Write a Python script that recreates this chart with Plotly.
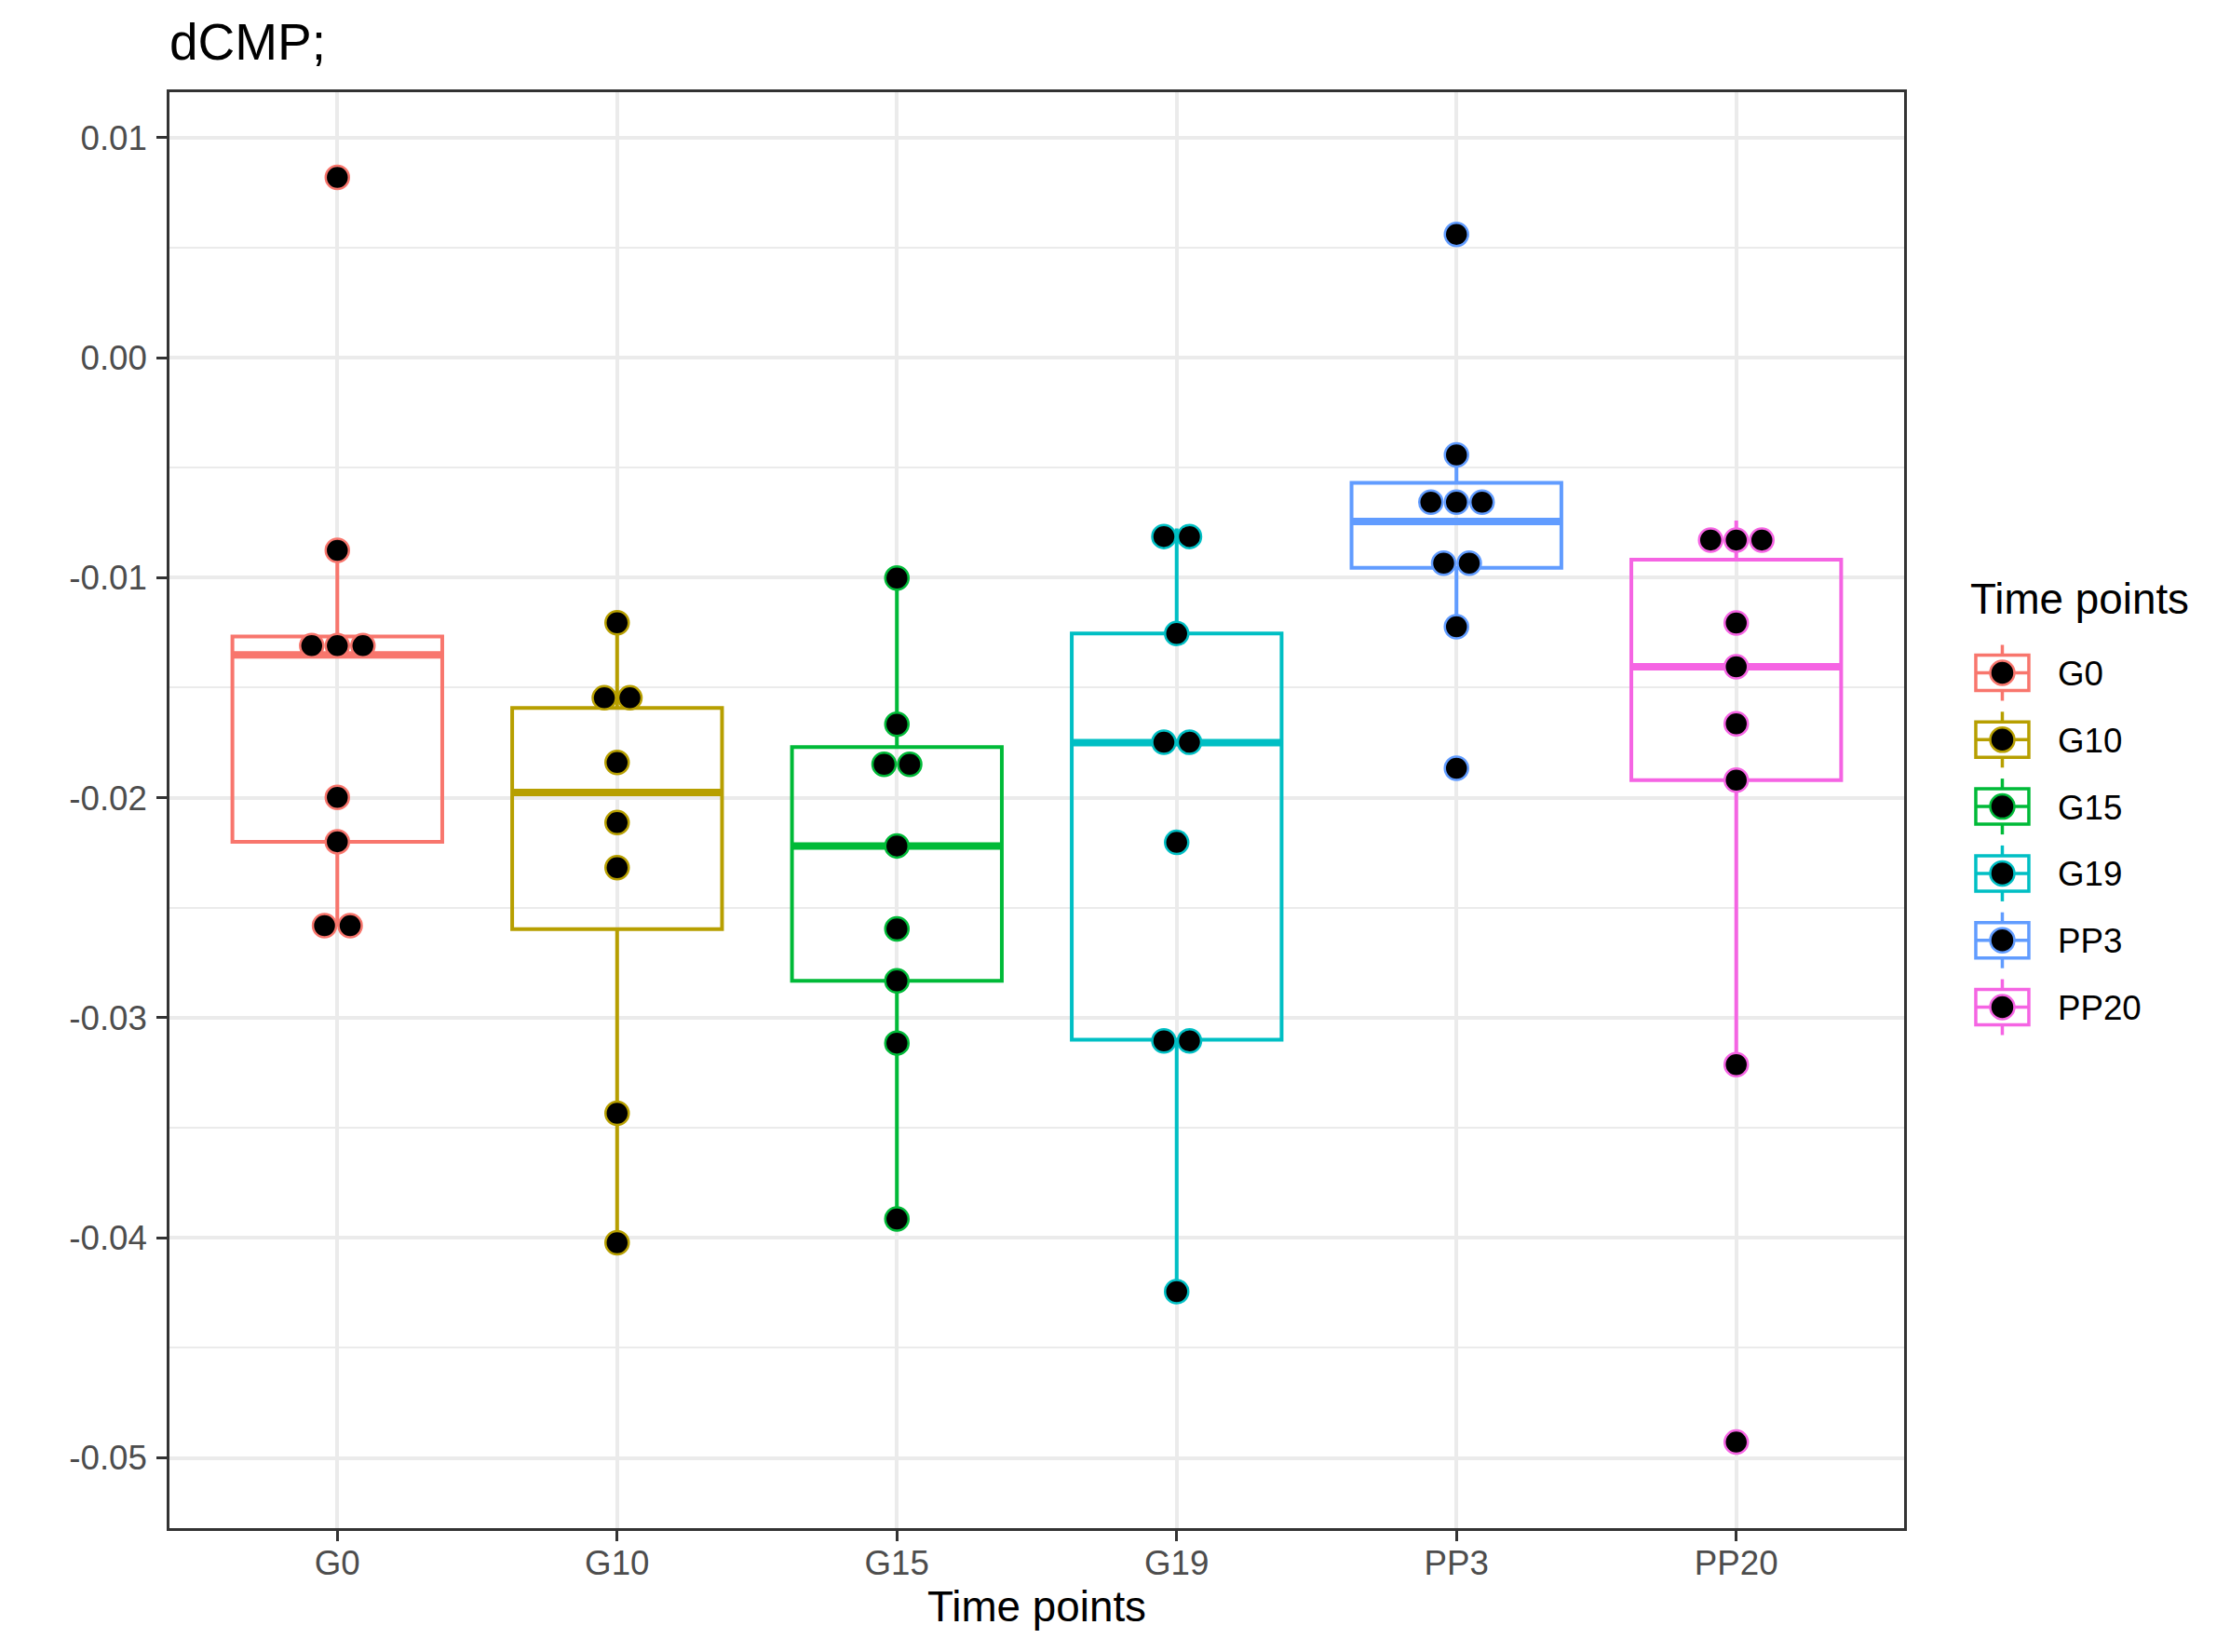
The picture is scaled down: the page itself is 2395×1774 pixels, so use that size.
import numpy as np
import plotly.graph_objects as go

# ---------------- data ----------------
categories = ["G0", "G10", "G15", "G19", "PP3", "PP20"]
colors = ["#F8766D", "#B79F00", "#00BA38", "#00BFC4", "#619CFF", "#F564E3"]

g0 = [0.00819, -0.00876, -0.01267, -0.01309, -0.01351, -0.01998, -0.02200, -0.02577, -0.02585]
g10 = [-0.01205, -0.01454, -0.01638, -0.01840, -0.02113, -0.02318, -0.03434, -0.04022]
g15 = [-0.01002, -0.01666, -0.01770, -0.01926, -0.02219, -0.02596, -0.02832, -0.03115, -0.03914]
g19 = [-0.00776, -0.00850, -0.01254, -0.01746, -0.01750, -0.02203, -0.03100, -0.03110, -0.04244]
pp3 = [0.00560, -0.00442, -0.00569, -0.00660, -0.00745, -0.00913, -0.00955, -0.01223, -0.01866]
pp20 = [-0.00740, -0.00830, -0.00918, -0.01206, -0.01405, -0.01664, -0.01920, -0.03213, -0.04928]
series = [g0, g10, g15, g19, pp3, pp20]

y_tickvals = [0.01, 0.00, -0.01, -0.02, -0.03, -0.04, -0.05]
y_ticktext = ["0.01", "0.00", "-0.01", "-0.02", "-0.03", "-0.04", "-0.05"]

title_text = "dCMP;"
x_title = "Time points"
legend_title = "Time points"

# ---------------- layout constants (page pixels) ----------------
PAGE_W, PAGE_H = 2395, 1774
OFF = 8                       # default body margin of the html page
W, H = PAGE_W - 2 * OFF, PAGE_H - 2 * OFF
PL, PR, PT, PB = 181.5, 2045, 99, 1641  # panel edges on the page
X_RANGE = [0.4, 6.6]
Y_RANGE = [-0.05319, 0.01206]
FONT = "Liberation Sans, Arial, Helvetica, sans-serif"
BOX_W = 0.75
DOT_PX = 27.5
px_per_unit = (PR - PL) / (X_RANGE[1] - X_RANGE[0])
dot_step = DOT_PX / px_per_unit

all_vals = np.concatenate([np.array(s) for s in series])
binwidth = (all_vals.max() - all_vals.min()) / 30.0


def dot_bins(values, bw):
    v = sorted(values)
    bins = []
    end = -np.inf
    for x in v:
        if x >= end:
            bins.append([x])
            end = x + bw
        else:
            bins[-1].append(x)
    return [((min(b) + max(b)) / 2.0, len(b)) for b in bins]


def box_stats(vals):
    a = np.sort(np.asarray(vals, dtype=float))
    q1, med, q3 = np.percentile(a, [25, 50, 75])
    iqr = q3 - q1
    lf = a[a >= q1 - 1.5 * iqr].min()
    uf = a[a <= q3 + 1.5 * iqr].max()
    return q1, med, q3, lf, uf


fig = go.Figure()

for i, (cat, vals, col) in enumerate(zip(categories, series, colors)):
    pos = i + 1
    q1, med, q3, lf, uf = box_stats(vals)
    fig.add_trace(go.Box(
        x=[pos], q1=[q1], median=[med], q3=[q3], lowerfence=[lf], upperfence=[uf],
        name=cat, width=BOX_W, boxpoints=False,
        line=dict(color=col, width=4), fillcolor="rgba(0,0,0,0)",
        whiskerwidth=0, showlegend=False, hoverinfo="skip",
    ))
    fig.add_trace(go.Scatter(
        x=[pos - BOX_W / 2, pos + BOX_W / 2], y=[med, med], mode="lines",
        line=dict(color=col, width=8), showlegend=False, hoverinfo="skip",
    ))

for i, (cat, vals, col) in enumerate(zip(categories, series, colors)):
    pos = i + 1
    xs, ys = [], []
    for c, n in dot_bins(vals, binwidth):
        for k in range(n):
            xs.append(pos + (k - (n - 1) / 2.0) * dot_step)
            ys.append(c)
    fig.add_trace(go.Scatter(
        x=xs, y=ys, mode="markers", name=cat, showlegend=False,
        marker=dict(color="black", size=DOT_PX - 2.5, line=dict(color=col, width=2.5)),
    ))


def xp(px):
    return (px - PL) / (PR - PL)


def yp(py):
    return (PB - py) / (PB - PT)


# ---------------- legend (ggplot-style keys) ----------------
shapes = []
annotations = []
LEG_X0, LEG_X1 = 2122, 2179
LEG_XC = (LEG_X0 + LEG_X1) / 2
LEG_Y0 = 722.5
LEG_STEP = 71.8
for i, (cat, col) in enumerate(zip(categories, colors)):
    yc = LEG_Y0 + i * LEG_STEP
    lw = 3.5
    shapes.append(dict(type="line", xref="paper", yref="paper", x0=xp(LEG_XC), x1=xp(LEG_XC),
                       y0=yp(yc - 30), y1=yp(yc - 19), line=dict(color=col, width=lw)))
    shapes.append(dict(type="line", xref="paper", yref="paper", x0=xp(LEG_XC), x1=xp(LEG_XC),
                       y0=yp(yc + 19), y1=yp(yc + 30), line=dict(color=col, width=lw)))
    shapes.append(dict(type="rect", xref="paper", yref="paper", x0=xp(LEG_X0), x1=xp(LEG_X1),
                       y0=yp(yc + 19), y1=yp(yc - 19), line=dict(color=col, width=lw),
                       fillcolor="white"))
    shapes.append(dict(type="line", xref="paper", yref="paper", x0=xp(LEG_X0), x1=xp(LEG_X1),
                       y0=yp(yc), y1=yp(yc), line=dict(color=col, width=lw)))
    r = 13
    shapes.append(dict(type="circle", xref="paper", yref="paper", x0=xp(LEG_XC - r), x1=xp(LEG_XC + r),
                       y0=yp(yc + r), y1=yp(yc - r), fillcolor="black", line=dict(color=col, width=2.5)))
    annotations.append(dict(text=cat, xref="paper", yref="paper", x=xp(2208), y=yp(yc + 1),
                            xanchor="left", yanchor="middle", showarrow=False,
                            font=dict(family=FONT, size=36.7, color="black")))

annotations.append(dict(text=legend_title, xref="paper", yref="paper", x=xp(2114), y=yp(643),
                        xanchor="left", yanchor="middle", showarrow=False,
                        font=dict(family=FONT, size=45.8, color="black")))

fig.update_layout(
    width=W, height=H,
    margin=dict(l=PL - OFF, r=W - (PR - OFF), t=PT - OFF, b=H - (PB - OFF), pad=0),
    paper_bgcolor="white", plot_bgcolor="white",
    showlegend=False, boxmode="overlay",
    font=dict(family=FONT, color="black"),
    title=dict(text=title_text, x=0, xref="paper", xanchor="left",
               y=1 - 37.0 / H, yref="container", yanchor="middle",
               font=dict(family=FONT, size=55, color="black")),
    shapes=shapes, annotations=annotations,
    xaxis=dict(
        range=X_RANGE, tickmode="array", tickvals=list(range(1, len(categories) + 1)),
        ticktext=categories, showgrid=True, gridcolor="#EBEBEB", gridwidth=3.5,
        zeroline=False, ticks="outside", ticklen=11, tickwidth=3, tickcolor="#333333",
        tickfont=dict(family=FONT, size=36.7, color="#4D4D4D"), ticklabelstandoff=-8,
        showline=True, linecolor="#333333", linewidth=2.5, mirror=True,
        title=dict(text=x_title, font=dict(family=FONT, size=45.8, color="black"), standoff=12),
    ),
    yaxis=dict(
        range=Y_RANGE, tickmode="array", tickvals=y_tickvals, ticktext=y_ticktext,
        showgrid=True, gridcolor="#EBEBEB", gridwidth=3.5, zeroline=False,
        ticks="outside", ticklen=11, tickwidth=3, tickcolor="#333333",
        tickfont=dict(family=FONT, size=36.7, color="#4D4D4D"), ticklabelstandoff=3,
        showline=True, linecolor="#333333", linewidth=2.5, mirror=True,
        minor=dict(tickmode="linear", tick0=0.005, dtick=0.01, showgrid=True,
                   gridcolor="#EBEBEB", gridwidth=2, ticks=""),
    ),
)

fig.write_html("out.html")
